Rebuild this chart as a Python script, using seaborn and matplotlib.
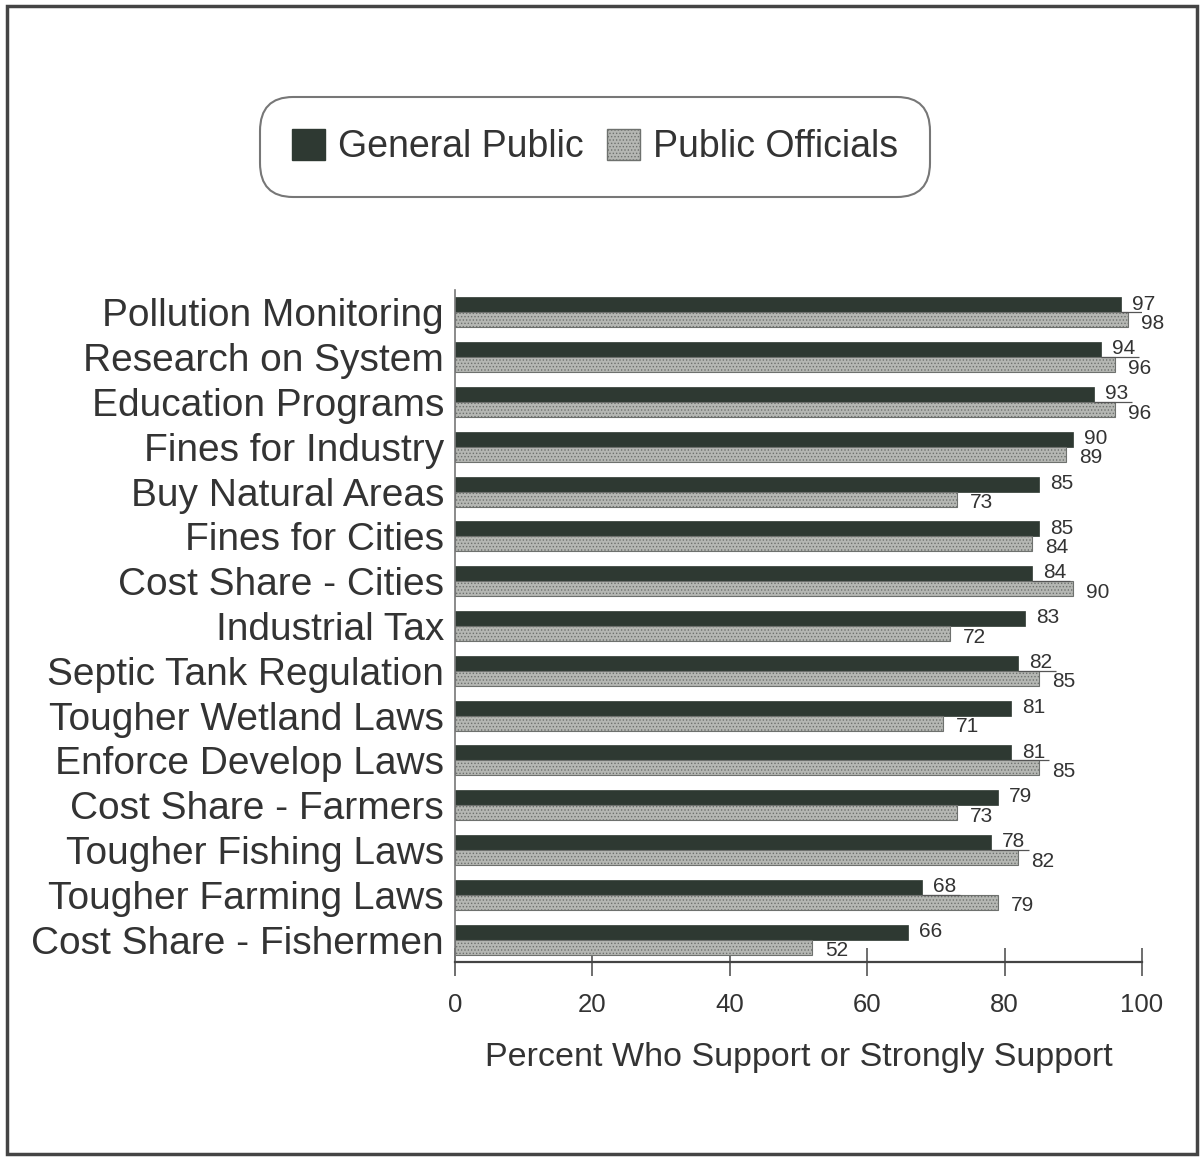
import matplotlib
matplotlib.use("Agg")
import matplotlib.pyplot as plt
from matplotlib.patches import Patch, Rectangle
import seaborn as sns
import pandas as pd

# Support for water-quality management options
categories = [
    "Pollution Monitoring", "Research on System", "Education Programs",
    "Fines for Industry", "Buy Natural Areas", "Fines for Cities",
    "Cost Share - Cities", "Industrial Tax", "Septic Tank Regulation",
    "Tougher Wetland Laws", "Enforce Develop Laws", "Cost Share - Farmers",
    "Tougher Fishing Laws", "Tougher Farming Laws", "Cost Share - Fishermen",
]
general_public = [97, 94, 93, 90, 85, 85, 84, 83, 82, 81, 81, 79, 78, 68, 66]
public_officials = [98, 96, 96, 89, 73, 84, 90, 72, 85, 71, 85, 73, 82, 79, 52]
groups = ["General Public", "Public Officials"]
x_ticks = [0, 20, 40, 60, 80, 100]
x_label = "Percent Who Support or Strongly Support"

DARK = "#2e3932"
LIGHT = "#b5b7b3"
LIGHT_EDGE = "#6e716e"
TEXT = "#333333"

sns.set_theme(style="white")
plt.rcParams["font.family"] = ["Liberation Sans", "DejaVu Sans"]
plt.rcParams["hatch.linewidth"] = 0.6

df = pd.DataFrame({
    "category": categories * 2,
    "value": general_public + public_officials,
    "group": [groups[0]] * len(categories) + [groups[1]] * len(categories),
})

fig = plt.figure(figsize=(12.03, 11.58), dpi=100)
ax = fig.add_axes([455 / 1203, 1 - 962 / 1158, (1142 - 455) / 1203, (962 - 290) / 1158])

sns.barplot(
    data=df, y="category", x="value", hue="group", hue_order=groups,
    order=categories, orient="h", palette=[DARK, LIGHT], saturation=1,
    width=0.667, legend=False, ax=ax,
)

# Style the officials' bars with a fine stipple
for container, grp in zip(ax.containers, groups):
    for bar in container:
        if grp == groups[1]:
            bar.set_hatch(".....")
            bar.set_edgecolor(LIGHT_EDGE)
            bar.set_linewidth(0.8)
        else:
            bar.set_edgecolor(DARK)
            bar.set_linewidth(0.5)

ax.set_xlim(0, 100)
ax.set_ylim(len(categories) - 0.5, -0.5)
ax.set_xticks(x_ticks)
ax.set_xlabel(x_label, fontsize=24.5, color=TEXT, labelpad=18)
ax.set_ylabel("")
ax.tick_params(axis="x", direction="inout", length=20, width=1.2,
               color="#555555", labelsize=18.5, labelcolor=TEXT, pad=12,
               bottom=True)
ax.tick_params(axis="y", length=0, labelsize=28, labelcolor=TEXT, pad=8)

for side in ("top", "right"):
    ax.spines[side].set_visible(False)
ax.spines["left"].set_color("#777777")
ax.spines["left"].set_linewidth(1.2)
ax.spines["bottom"].set_color("#444444")
ax.spines["bottom"].set_linewidth(1.6)

# Value labels, with a short leader under the public value when the
# officials' bar runs past it
dark_bars = ax.containers[0]
light_bars = ax.containers[1]
for i, (gp, po) in enumerate(zip(general_public, public_officials)):
    db = dark_bars[i]
    lb = light_bars[i]
    dy = db.get_y() + db.get_height() / 2
    ly = lb.get_y() + lb.get_height() / 2
    ax.text(gp + 1.6, dy - 0.02, str(gp), va="center", ha="left",
            fontsize=15, color=TEXT)
    ax.text(po + 1.9, ly + 0.08, str(po), va="center", ha="left",
            fontsize=15, color=TEXT)
    if po > gp:
        yb = db.get_y() + db.get_height()
        ax.plot([gp, gp + 5.5], [yb, yb], color="#555555", lw=0.9,
                solid_capstyle="butt")

handles = [
    Patch(facecolor=DARK, edgecolor=DARK, label=groups[0]),
    Patch(facecolor=LIGHT, edgecolor=LIGHT_EDGE, hatch=".....", label=groups[1]),
]
leg = fig.legend(
    handles=handles, loc="center", bbox_to_anchor=(595 / 1203, 1 - 147 / 1158),
    ncol=2, fontsize=27, frameon=True, fancybox=True, borderpad=0.85,
    handlelength=0.9, handleheight=0.9, handletextpad=0.35,
    columnspacing=0.6, labelcolor=TEXT,
)
frame = leg.get_frame()
frame.set_edgecolor("#555555")
frame.set_linewidth(1.5)
frame.set_boxstyle("round", pad=0, rounding_size=0.9)

# Outer border round the whole figure
fig.patches.append(Rectangle(
    (7 / 1203, 1 - 1154 / 1158), (1197 - 7) / 1203, (1154 - 6) / 1158,
    transform=fig.transFigure, fill=False, edgecolor="#444444", linewidth=2.5,
))

fig.savefig("out.png", dpi=100, facecolor="white")
